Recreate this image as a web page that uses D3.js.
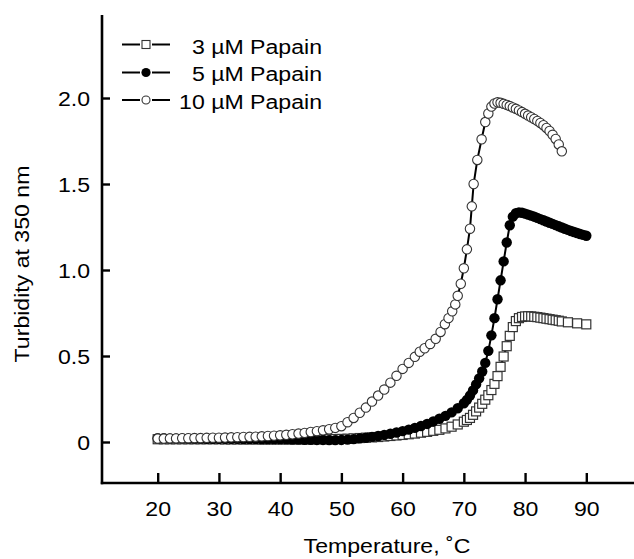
<!DOCTYPE html>
<html>
<head>
<meta charset="utf-8">
<script src="https://cdn.jsdelivr.net/npm/d3@7"></script>
<style>
  html, body { margin: 0; padding: 0; background: #fff; }
  svg { display: block; font-family: "Liberation Sans", Arial, Helvetica, sans-serif; }
</style>
</head>
<body>
<svg id="chart" width="634" height="559"></svg>
<script>
// Turbidity (A350) of papain solutions during heating
const seriesNames = ["3 \u00b5M Papain", "5 \u00b5M Papain", "10 \u00b5M Papain"];

const temps3 = [20,21,22,23,24,25,26,27,28,29,30,31,32,33,34,35,36,37,38,39,
  40,41,42,43,44,45,46,47,48,49,50,51,52,53,54,55,56,57,58,59,
  60,61,62,63,64,65,66,67,68,69,70,
  70.5,71,71.5,72,72.5,73,73.5,74,74.5,75,75.5,76,76.5,77,77.5,78,78.5,79,79.5,
  80,80.5,81,81.5,82,82.5,83,83.5,84,84.5,85,85.5,86,87,88.5,90];
const turb3 = [0.016,0.016,0.016,0.016,0.016,0.016,0.016,0.016,0.016,0.016,
  0.016,0.015,0.015,0.015,0.015,0.015,0.015,0.015,0.015,0.015,
  0.015,0.015,0.015,0.015,0.015,0.015,0.016,0.016,0.016,0.017,
  0.018,0.019,0.021,0.023,0.025,0.027,0.029,0.032,0.035,0.038,
  0.041,0.045,0.049,0.054,0.059,0.065,0.071,0.079,0.089,0.102,0.118,
  0.128,0.14,0.158,0.178,0.2,0.222,0.246,0.272,0.302,0.338,0.383,0.437,0.497,0.557,0.617,0.668,0.703,0.72,0.727,
  0.73,0.731,0.73,0.728,0.726,0.723,0.72,0.717,0.714,0.711,0.708,0.705,0.701,0.696,0.69,0.684];

const temps5 = [20,21,22,23,24,25,26,27,28,29,30,31,32,33,34,35,36,37,38,39,
  40,41,42,43,44,45,46,47,48,49,50,51,52,53,54,55,56,57,58,59,
  60,61,62,63,64,65,66,67,68,69,70,
  70.5,71,71.5,72,72.5,73,73.5,74,74.5,75,75.5,76,76.5,77,77.5,78,78.5,79,79.5,
  80,80.5,81,81.5,82,82.5,83,83.5,84,84.5,85,85.5,86,86.5,87,87.5,88,88.5,89,89.5,90];
const turb5 = [0.022,0.022,0.021,0.021,0.021,0.020,0.020,0.020,0.019,0.019,
  0.019,0.018,0.018,0.018,0.017,0.017,0.017,0.016,0.016,0.016,
  0.015,0.015,0.014,0.014,0.013,0.013,0.012,0.012,0.011,0.011,
  0.012,0.014,0.017,0.021,0.025,0.030,0.035,0.041,0.048,0.055,
  0.063,0.072,0.082,0.093,0.105,0.12,0.135,0.152,0.172,0.196,0.225,
  0.245,0.27,0.30,0.335,0.37,0.41,0.46,0.53,0.62,0.72,0.83,0.94,1.05,1.16,1.26,1.31,1.33,1.335,1.333,
  1.328,1.322,1.316,1.31,1.303,1.296,1.289,1.282,1.275,1.268,1.261,1.254,1.247,1.24,1.233,1.227,1.221,1.215,1.209,1.204,1.199];

const temps10 = [20,21,22,23,24,25,26,27,28,29,30,31,32,33,34,35,36,37,38,39,
  40,41,42,43,44,45,46,47,48,49,50,51,52,53,54,55,56,57,58,59,60,61,62,
  62.8,63.6,64.5,65.4,66.2,66.9,67.5,68.1,68.6,69.0,69.5,70.0,70.5,71.0,71.3,71.6,72.2,72.9,73.5,
  74,74.5,75,75.5,76,76.5,77,77.5,78,78.5,79,79.5,80,80.5,81,81.5,82,82.5,83,83.5,84,84.5,85,85.5,86];
const turb10 = [0.020,0.020,0.021,0.021,0.022,0.022,0.023,0.023,0.024,0.025,
  0.025,0.026,0.027,0.028,0.029,0.030,0.031,0.033,0.035,0.037,
  0.039,0.042,0.045,0.049,0.053,0.058,0.063,0.068,0.074,0.082,0.092,
  0.115,0.14,0.17,0.20,0.235,0.27,0.305,0.345,0.385,0.425,0.46,0.495,
  0.525,0.545,0.57,0.60,0.64,0.685,0.72,0.76,0.80,0.85,0.92,1.01,1.12,1.24,1.37,1.50,1.64,1.76,1.86,
  1.91,1.95,1.968,1.975,1.972,1.966,1.96,1.953,1.945,1.937,1.928,1.918,1.908,1.898,1.888,1.878,1.867,1.855,1.842,1.826,1.808,1.786,1.762,1.73,1.69];

const xTicks = [20,30,40,50,60,70,80,90];
const yTicks = [0,0.5,1.0,1.5,2.0];
const yTickLabels = ["0","0.5","1.0","1.5","2.0"];

const FS = 21;     // font size
const SX = 1.1;    // horizontal text stretch

const svg = d3.select("#chart");
const x = d3.scaleLinear().domain([20, 90]).range([157.7, 586.3]);
const y = d3.scaleLinear().domain([0, 2]).range([442, 98]);

const xAxisY = 483, yAxisX = 102;

// axis lines
svg.append("line").attr("x1", yAxisX).attr("x2", yAxisX).attr("y1", 15).attr("y2", xAxisY + 1.2)
  .attr("stroke", "#000").attr("stroke-width", 2.6);
svg.append("line").attr("x1", yAxisX - 1.2).attr("x2", 634).attr("y1", xAxisY).attr("y2", xAxisY)
  .attr("stroke", "#000").attr("stroke-width", 2.6);

// x axis ticks and labels
const gx = svg.append("g").attr("transform", `translate(0,${xAxisY})`)
  .call(d3.axisBottom(x).tickValues(xTicks).tickSize(-10).tickFormat(d => String(d)));
gx.attr("font-size", FS).attr("font-family", null);
gx.select(".domain").remove();
gx.selectAll(".tick line").attr("stroke", "#000").attr("stroke-width", 2.4);
gx.selectAll(".tick text").attr("y", 33).attr("dy", 0).attr("fill", "#000")
  .attr("transform", `scale(${SX},1)`);

// y axis ticks and labels
const gy = svg.append("g").attr("transform", `translate(${yAxisX},0)`)
  .call(d3.axisLeft(y).tickValues(yTicks).tickSize(-8).tickFormat((d, i) => yTickLabels[i]));
gy.attr("font-size", FS).attr("font-family", null);
gy.select(".domain").remove();
gy.selectAll(".tick line").attr("stroke", "#000").attr("stroke-width", 2.4);
gy.selectAll(".tick text").attr("x", -12 / SX).attr("dy", "0.36em").attr("fill", "#000")
  .attr("transform", `scale(${SX},1)`);

// axis titles
svg.append("text").attr("transform", `translate(387,553) scale(${SX},1)`)
  .attr("text-anchor", "middle").attr("font-size", FS).text("Temperature, \u02daC");
svg.append("text").attr("transform", `translate(29,264) rotate(-90) scale(${SX},1)`)
  .attr("text-anchor", "middle").attr("font-size", FS).text("Turbidity at 350 nm");

// series
const line = d3.line().x(d => x(d[0])).y(d => y(d[1]));

function drawSeries(temps, vals, kind) {
  const pts = temps.map((t, i) => [t, vals[i]]);
  const g = svg.append("g");
  g.append("path").datum(pts).attr("d", line)
    .attr("fill", "none").attr("stroke", "#000").attr("stroke-width", 2);
  if (kind === "square") {
    const s = 9;
    g.selectAll("rect").data(pts).join("rect")
      .attr("x", d => x(d[0]) - s / 2).attr("y", d => y(d[1]) - s / 2)
      .attr("width", s).attr("height", s)
      .attr("fill", "#fff").attr("stroke", "#333").attr("stroke-width", 1.2);
  } else if (kind === "filled") {
    g.selectAll("circle").data(pts).join("circle")
      .attr("cx", d => x(d[0])).attr("cy", d => y(d[1])).attr("r", 5.2)
      .attr("fill", "#000");
  } else {
    g.selectAll("circle").data(pts).join("circle")
      .attr("cx", d => x(d[0])).attr("cy", d => y(d[1])).attr("r", 4.7)
      .attr("fill", "#fff").attr("stroke", "#333").attr("stroke-width", 1.1);
  }
}

drawSeries(temps3, turb3, "square");
drawSeries(temps5, turb5, "filled");
drawSeries(temps10, turb10, "open");

// legend
const legendKinds = ["square", "filled", "open"];
const legendMarkY = [44.5, 72.5, 100];
const legendTextY = [53.5, 81, 108.5];
legendKinds.forEach((kind, i) => {
  const g = svg.append("g");
  const cy = legendMarkY[i];
  g.append("line").attr("x1", 122).attr("x2", 140).attr("y1", cy).attr("y2", cy)
    .attr("stroke", "#000").attr("stroke-width", 2);
  g.append("line").attr("x1", 152).attr("x2", 170).attr("y1", cy).attr("y2", cy)
    .attr("stroke", "#000").attr("stroke-width", 2);
  if (kind === "square") {
    g.append("rect").attr("x", 146 - 4).attr("y", cy - 4).attr("width", 8).attr("height", 8)
      .attr("fill", "#fff").attr("stroke", "#333").attr("stroke-width", 1.1);
  } else if (kind === "filled") {
    g.append("circle").attr("cx", 146).attr("cy", cy).attr("r", 4.6).attr("fill", "#000");
  } else {
    g.append("circle").attr("cx", 146).attr("cy", cy).attr("r", 4)
      .attr("fill", "#fff").attr("stroke", "#333").attr("stroke-width", 1.1);
  }
  g.append("text").attr("transform", `translate(322,${legendTextY[i]}) scale(${SX},1)`)
    .attr("text-anchor", "end").attr("font-size", FS).text(seriesNames[i]);
});
</script>
</body>
</html>
